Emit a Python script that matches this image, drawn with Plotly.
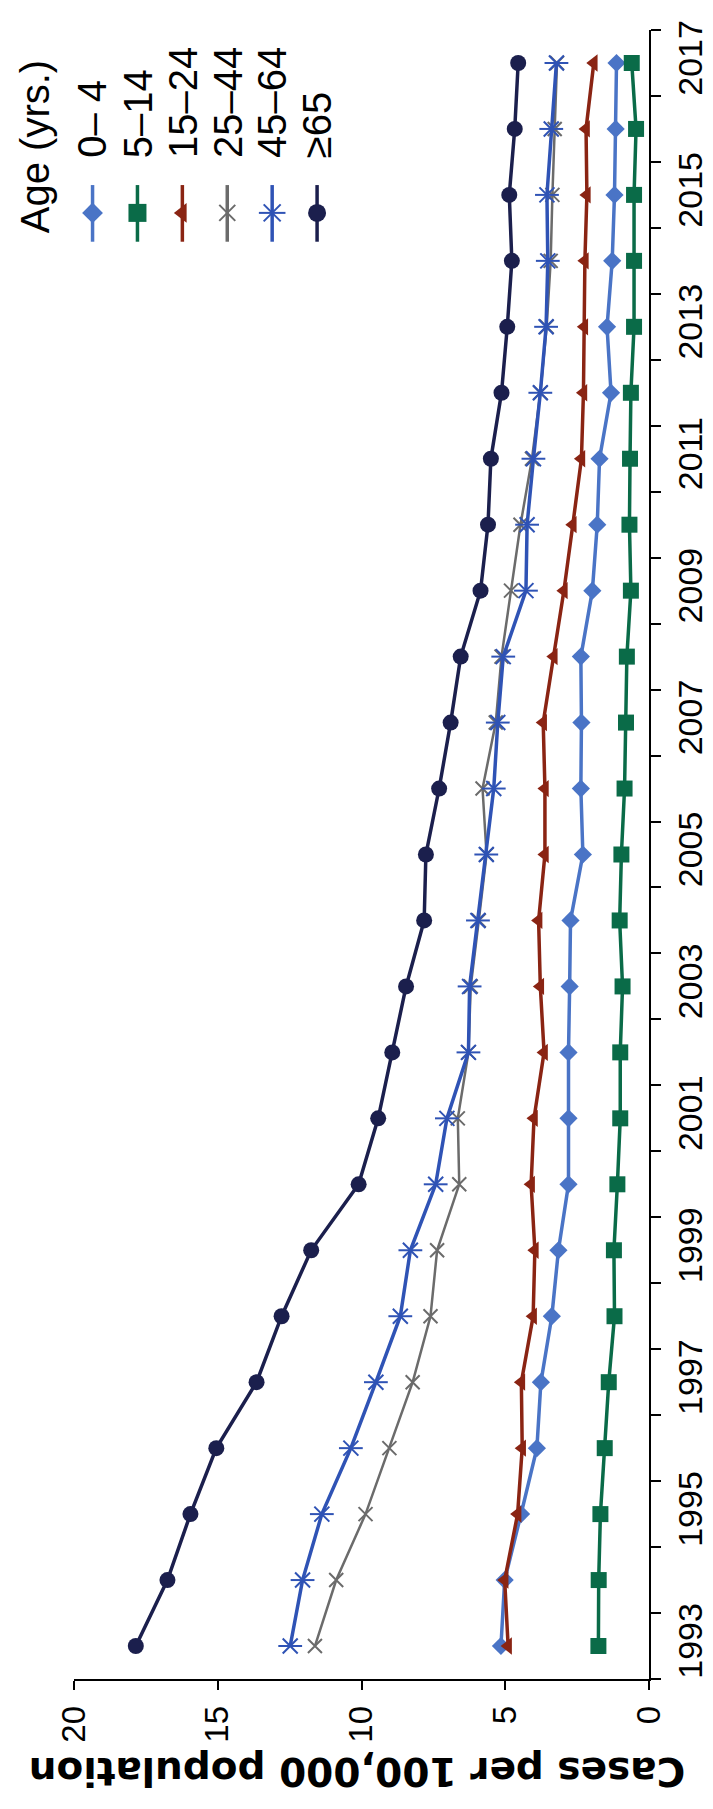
import plotly.graph_objects as go

years = list(range(1993, 2018))
age_0_4 = [5.15, 5.02, 4.45, 3.9, 3.76, 3.38, 3.15, 2.8, 2.8, 2.8, 2.76, 2.73, 2.3, 2.37, 2.35, 2.37, 1.97, 1.8, 1.72, 1.32, 1.46, 1.28, 1.2, 1.16, 1.13]
age_5_14 = [1.76, 1.75, 1.69, 1.54, 1.4, 1.2, 1.22, 1.1, 1.0, 1.0, 0.92, 1.02, 0.96, 0.85, 0.8, 0.77, 0.63, 0.68, 0.66, 0.63, 0.52, 0.52, 0.52, 0.45, 0.6]
age_15_24 = [4.9, 5.02, 4.57, 4.41, 4.44, 4.03, 3.97, 4.1, 4.0, 3.65, 3.78, 3.84, 3.62, 3.62, 3.68, 3.31, 2.96, 2.65, 2.35, 2.28, 2.25, 2.23, 2.16, 2.19, 1.92]
age_25_44 = [11.62, 10.88, 9.86, 9.03, 8.22, 7.6, 7.37, 6.6, 6.65, 6.28, 6.2, 5.92, 5.65, 5.79, 5.33, 5.13, 4.8, 4.47, 4.07, 3.78, 3.56, 3.42, 3.36, 3.28, 3.2]
age_45_64 = [12.48, 12.05, 11.38, 10.37, 9.5, 8.65, 8.3, 7.42, 7.03, 6.28, 6.24, 5.95, 5.66, 5.4, 5.26, 5.07, 4.28, 4.24, 4.02, 3.78, 3.58, 3.52, 3.55, 3.4, 3.22]
age_65_plus = [17.85, 16.75, 15.95, 15.05, 13.65, 12.78, 11.75, 10.1, 9.42, 8.93, 8.45, 7.82, 7.76, 7.3, 6.9, 6.55, 5.86, 5.6, 5.5, 5.13, 4.93, 4.77, 4.86, 4.67, 4.55]

series_names = ["0\u2013 4", "5\u201314", "15\u201324", "25\u201344", "45\u201364", "\u226565"]
series_values = [age_0_4, age_5_14, age_15_24, age_25_44, age_45_64, age_65_plus]
colors = ["#4a74c6", "#0a6b48", "#8a2413", "#6b6b6b", "#2f53b5", "#1b1f4d"]
symbols = ["diamond", "square", "triangle-left", "x-thin-open", "x-thin-open", "circle"]
msizes = [14, 16, 15, 14, 15, 16]
lwidths = [3.5, 3.5, 3.5, 2.5, 3.5, 3.5]

value_ticks = [0, 5, 10, 15, 20]
year_labels = list(range(1993, 2018, 2))

W, H = 713, 1809
L, R, T, B = 66, 58, 12, 138
PW, PH = W - L - R, H - T - B

def px(xp):
    return (xp - L) / PW

def py(yp):
    return (H - B - yp) / PH

fig = go.Figure()
for name, vals, c, s, ms, lw in zip(series_names, series_values, colors, symbols, msizes, lwidths):
    mline = dict(width=2, color=c) if "open" in s else dict(width=0)
    fig.add_trace(go.Scatter(
        x=vals, y=years, mode="lines+markers", name=name,
        line=dict(color=c, width=lw),
        marker=dict(symbol=s, size=ms, color=c, line=mline),
        showlegend=False, cliponaxis=False))
    if name == "45\u201364":
        fig.add_trace(go.Scatter(
            x=vals, y=years, mode="markers", showlegend=False,
            marker=dict(symbol="line-ew-open", size=17, color=c, line=dict(width=2, color=c)),
            cliponaxis=False))

# manual rotated legend (glyphs on a pixel-unit overlay axis)
leg_x0, leg_dx = 85, 46
for i, (name, c, s, ms) in enumerate(zip(series_names, colors, symbols, msizes)):
    gx = leg_x0 + leg_dx * i
    fig.add_trace(go.Scatter(x=[gx, gx], y=[168, 225], mode="lines", xaxis="x2", yaxis="y2",
                             line=dict(color=c, width=3.5), showlegend=False, hoverinfo="skip"))
    mline = dict(width=2, color=c) if "open" in s else dict(width=0)
    fig.add_trace(go.Scatter(x=[gx], y=[196], mode="markers", xaxis="x2", yaxis="y2",
                             marker=dict(symbol=s, size=ms + 2, color=c, line=mline),
                             showlegend=False, hoverinfo="skip", cliponaxis=False))
    if name == "45\u201364":
        fig.add_trace(go.Scatter(x=[gx], y=[196], mode="markers", xaxis="x2", yaxis="y2",
                                 marker=dict(symbol="line-ew-open", size=19, color=c, line=dict(width=2, color=c)),
                                 showlegend=False, hoverinfo="skip", cliponaxis=False))
    fig.add_annotation(text=name, x=px(gx), y=py(143), xref="paper", yref="paper",
                       xanchor="center", yanchor="bottom", textangle=-90, showarrow=False,
                       font=dict(family="Liberation Sans", size=40, color="black"))

fig.add_annotation(text="Age (yrs.)", x=px(26), y=py(218), xref="paper", yref="paper",
                   xanchor="center", yanchor="bottom", textangle=-90, showarrow=False,
                   font=dict(family="Liberation Sans", size=40, color="black"))

fig.add_annotation(text="Cases per 100,000 population", x=px(356), y=py(1764),
                   xref="paper", yref="paper", xanchor="center", yanchor="middle",
                   textangle=180, showarrow=False,
                   font=dict(family="DejaVu Sans", size=39, color="black", weight="bold"))

fig.update_layout(
    width=W, height=H, margin=dict(l=L, r=R, t=T, b=B),
    paper_bgcolor="white", plot_bgcolor="white",
    xaxis=dict(range=[20, 0], tickvals=value_ticks, ticktext=[str(v) for v in value_ticks],
               tickangle=-90, ticks="outside", ticklen=9, tickwidth=1.5, tickcolor="black",
               ticklabelstandoff=3,
               showline=True, linecolor="black", linewidth=1.5, showgrid=False, zeroline=False,
               tickfont=dict(family="Liberation Sans", size=33, color="black")),
    yaxis=dict(range=[1992.5, 2017.5], side="right", tickvals=year_labels,
               ticktext=[str(y) for y in year_labels], tickangle=-90,
               ticks="outside", ticklen=0, ticklabelstandoff=10,
               minor=dict(ticks="outside", ticklen=10, tickwidth=1.5, tickcolor="black",
                          tick0=1992.5, dtick=1, showgrid=False),
               showline=True, linecolor="black", linewidth=1.5, showgrid=False, zeroline=False,
               tickfont=dict(family="Liberation Sans", size=34, color="black")),
    xaxis2=dict(range=[L, W - R], overlaying="x", visible=False, fixedrange=True),
    yaxis2=dict(range=[H - B, T], overlaying="y", visible=False, fixedrange=True),
)

fig.write_html("out.html")
